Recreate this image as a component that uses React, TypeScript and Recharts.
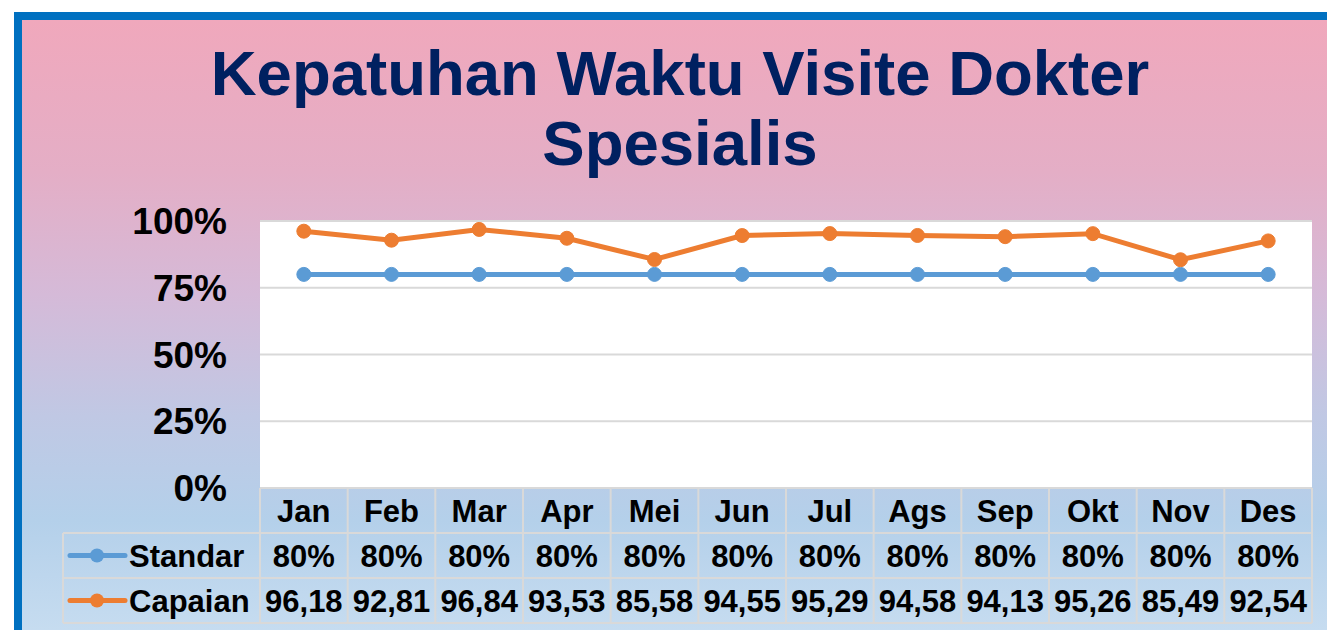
import { LineChart, Line, XAxis, YAxis, CartesianGrid } from 'recharts'

const months = ['Jan', 'Feb', 'Mar', 'Apr', 'Mei', 'Jun', 'Jul', 'Ags', 'Sep', 'Okt', 'Nov', 'Des']
const standar = [80, 80, 80, 80, 80, 80, 80, 80, 80, 80, 80, 80]
const capaian = [96.18, 92.81, 96.84, 93.53, 85.58, 94.55, 95.29, 94.58, 94.13, 95.26, 85.49, 92.54]
const yTicks = [0, 25, 50, 75, 100]

const W = 1327
const H = 630
const Y_AXIS_W = 100
const MARGIN = { top: 221, right: 15, bottom: 7, left: 160 }
const TABLE_H = 135
const ROW_H = TABLE_H / 3
const PLOT_LEFT = MARGIN.left + Y_AXIS_W
const PLOT_RIGHT = W - MARGIN.right
const PLOT_BOTTOM = H - MARGIN.bottom - TABLE_H
const CELL_W = (PLOT_RIGHT - PLOT_LEFT) / months.length
const LABEL_LEFT = 63

const BLUE = '#5b9bd5'
const ORANGE = '#ed7d31'
const GRID = '#d9d9d9'
const FONT = '"Liberation Sans", Arial, sans-serif'

const data = months.map((m, i) => ({ month: m, standar: standar[i], capaian: capaian[i] }))

const fmtComma = (v: number) => v.toFixed(2).replace('.', ',')

function TableTick(props: any) {
  const { x, y, index } = props
  const i = index as number
  const textProps = {
    fontFamily: FONT,
    fontWeight: 700,
    fontSize: 31,
    fill: '#000',
    textAnchor: 'middle' as const,
    dominantBaseline: 'central' as const,
  }
  return (
    <g>
      {i === 0 && (
        <line x1={x - CELL_W / 2} x2={x - CELL_W / 2} y1={y} y2={y + TABLE_H} stroke={GRID} strokeWidth={2} />
      )}
      <line x1={x + CELL_W / 2} x2={x + CELL_W / 2} y1={y} y2={y + TABLE_H} stroke={GRID} strokeWidth={2} />
      <text x={x} y={y + ROW_H / 2 + 1} {...textProps}>{months[i]}</text>
      <text x={x} y={y + ROW_H * 1.5 + 1} {...textProps}>{standar[i]}%</text>
      <text x={x} y={y + ROW_H * 2.5 + 1} {...textProps}>{fmtComma(capaian[i])}</text>
    </g>
  )
}

function RowLabels() {
  const rows = [
    { name: 'Standar', color: BLUE },
    { name: 'Capaian', color: ORANGE },
  ]
  return (
    <svg width={W} height={H} style={{ position: 'absolute', left: 0, top: 0, pointerEvents: 'none' }}>
      {[1, 2, 3].map((r) => (
        <line key={r} x1={LABEL_LEFT} x2={PLOT_RIGHT} y1={PLOT_BOTTOM + ROW_H * r} y2={PLOT_BOTTOM + ROW_H * r} stroke={GRID} strokeWidth={2} />
      ))}
      <line x1={LABEL_LEFT} x2={LABEL_LEFT} y1={PLOT_BOTTOM + ROW_H} y2={PLOT_BOTTOM + TABLE_H} stroke={GRID} strokeWidth={2} />
      {rows.map((r, k) => {
        const cy = PLOT_BOTTOM + ROW_H * (1.5 + k)
        return (
          <g key={r.name}>
            <line x1={70} x2={125} y1={cy} y2={cy} stroke={r.color} strokeWidth={5} strokeLinecap="round" />
            <circle cx={97} cy={cy} r={7} fill={r.color} />
            <text x={129} y={cy + 1} fontFamily={FONT} fontWeight={700} fontSize={31} dominantBaseline="central">
              {r.name}
            </text>
          </g>
        )
      })}
    </svg>
  )
}

export default function App() {
  return (
    <div style={{ position: 'absolute', left: 0, top: 0, width: W, height: H, background: '#fff', overflow: 'hidden' }}>
      <div
        style={{
          position: 'absolute',
          left: 14,
          top: 12,
          right: -10,
          bottom: 0,
          borderTop: '8px solid #0070c0',
          borderLeft: '8px solid #0070c0',
          background: 'linear-gradient(to bottom, #f0a8bc 0%, #e4aec6 25%, #d5bad8 45%, #c0c8e4 65%, #b4d0ea 82%, #c6dcf0 100%)',
        }}
      />
      <div
        style={{
          position: 'absolute',
          left: 0,
          top: 38,
          width: 1360,
          textAlign: 'center',
          fontFamily: FONT,
          fontWeight: 700,
          fontSize: 63.5,
          lineHeight: '70px',
          color: '#002060',
        }}
      >
        Kepatuhan Waktu Visite Dokter
        <br />
        Spesialis
      </div>
      <div style={{ position: 'absolute', left: 0, top: 0 }}>
        <LineChart width={W} height={H} data={data} margin={MARGIN}>
          <CartesianGrid vertical={false} stroke={GRID} strokeWidth={2} fill="#ffffff" fillOpacity={1} />
          <XAxis
            dataKey="month"
            scale="band"
            height={TABLE_H}
            axisLine={false}
            tickLine={false}
            tickSize={0}
            tickMargin={0}
            interval={0}
            tick={<TableTick />}
          />
          <YAxis
            width={Y_AXIS_W}
            domain={[0, 100]}
            ticks={yTicks}
            axisLine={false}
            tickLine={false}
            tickSize={0}
            tickMargin={33}
            tickFormatter={(v) => `${v}%`}
            tick={{ fontFamily: FONT, fontWeight: 700, fontSize: 37, fill: '#000' }}
          />
          <Line
            dataKey="standar"
            stroke={BLUE}
            strokeWidth={5}
            dot={{ r: 7, fill: BLUE, stroke: BLUE, strokeWidth: 1 }}
            isAnimationActive={false}
          />
          <Line
            dataKey="capaian"
            stroke={ORANGE}
            strokeWidth={5}
            dot={{ r: 7, fill: ORANGE, stroke: ORANGE, strokeWidth: 1 }}
            isAnimationActive={false}
          />
        </LineChart>
      </div>
      <RowLabels />
    </div>
  )
}
